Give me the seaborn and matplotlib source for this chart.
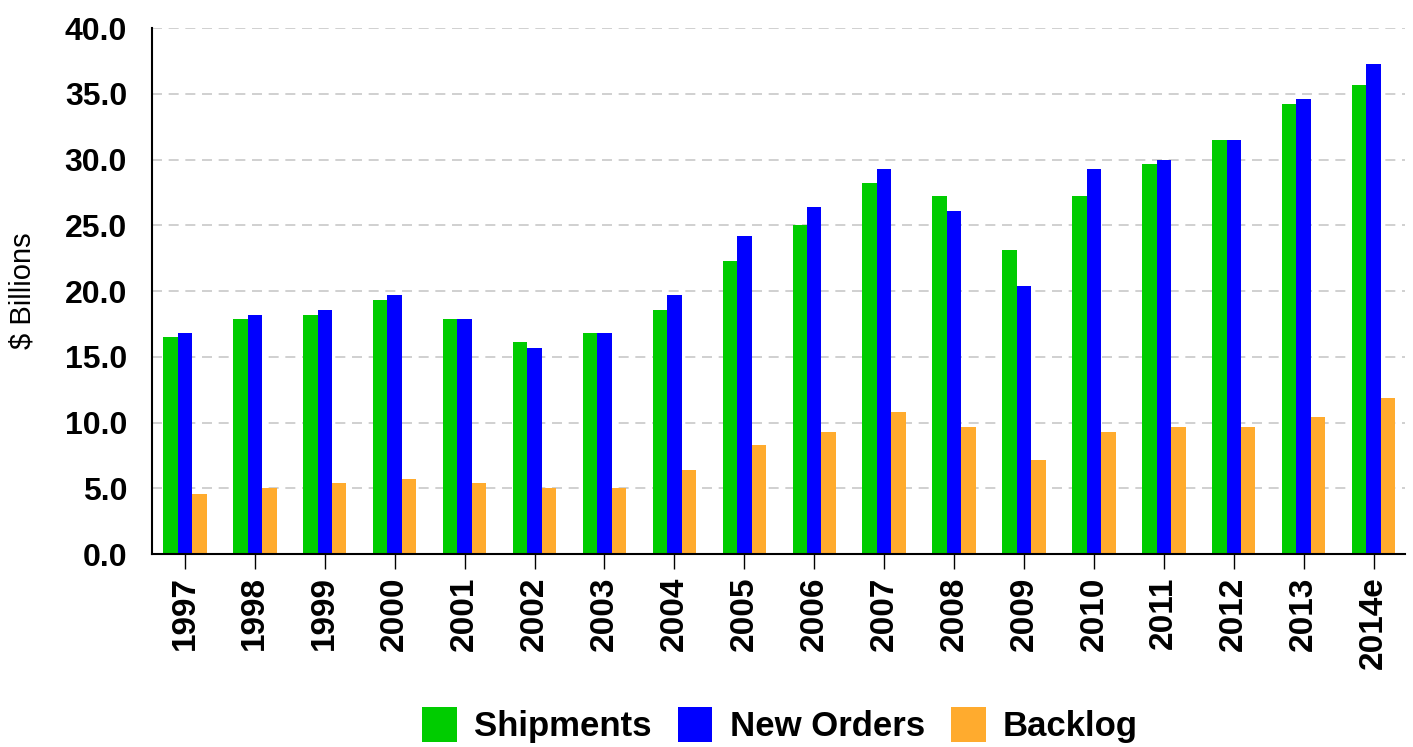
import pandas as pd
import matplotlib
matplotlib.use("Agg")
import matplotlib.pyplot as plt
import seaborn as sns
from matplotlib.ticker import FormatStrFormatter, MultipleLocator

years = ["1997", "1998", "1999", "2000", "2001", "2002", "2003", "2004", "2005",
         "2006", "2007", "2008", "2009", "2010", "2011", "2012", "2013", "2014e"]
shipments = [16.5, 17.9, 18.2, 19.3, 17.9, 16.1, 16.8, 18.6, 22.3,
             25.0, 28.2, 27.2, 23.1, 27.2, 29.7, 31.5, 34.2, 35.7]
new_orders = [16.8, 18.2, 18.6, 19.7, 17.9, 15.7, 16.8, 19.7, 24.2,
              26.4, 29.3, 26.1, 20.4, 29.3, 30.0, 31.5, 34.6, 37.3]
backlog = [4.6, 5.0, 5.4, 5.7, 5.4, 5.0, 5.0, 6.4, 8.3,
           9.3, 10.8, 9.7, 7.2, 9.3, 9.7, 9.7, 10.4, 11.9]
series = ["Shipments", "New Orders", "Backlog"]
colors = ["#00CC00", "#0000FF", "#FFAB2E"]

df = pd.DataFrame({
    "year": years * 3,
    "series": [series[0]] * len(years) + [series[1]] * len(years) + [series[2]] * len(years),
    "value": shipments + new_orders + backlog,
})

sns.set_style("white")
plt.rcParams["font.family"] = ["Liberation Sans", "DejaVu Sans"]
plt.rcParams["text.color"] = "black"
plt.rcParams["xtick.color"] = "black"
plt.rcParams["ytick.color"] = "black"
plt.rcParams["axes.labelcolor"] = "black"

fig = plt.figure(figsize=(14.13, 7.47), dpi=100)
ax = fig.add_axes([0.1076, 0.258, 0.8868, 0.7045])

sns.barplot(data=df, x="year", y="value", hue="series", order=years,
            hue_order=series, palette=colors, width=0.62, saturation=1,
            linewidth=0, ax=ax, legend=True)

ax.set_xlim(-0.47, 17.45)
ax.set_ylim(0, 40)
ax.yaxis.set_major_locator(MultipleLocator(5))
ax.yaxis.set_major_formatter(FormatStrFormatter("%.1f"))
ax.set_axisbelow(True)
ax.grid(axis="y", color="#C8C8C8", linestyle=(0, (6, 4)), linewidth=1.2)
ax.grid(axis="x", visible=False)

for s in ["top", "right"]:
    ax.spines[s].set_visible(False)
for s in ["left", "bottom"]:
    ax.spines[s].set_color("black")
    ax.spines[s].set_linewidth(1.5)

ax.tick_params(axis="x", length=11, width=1, color="black", pad=5,
               labelsize=24, rotation=90, bottom=True)
ax.tick_params(axis="y", length=0, pad=18, labelsize=23)
for lab in ax.get_xticklabels() + ax.get_yticklabels():
    lab.set_fontweight("bold")

ax.set_xlabel("")
ax.set_ylabel("$ Billions", fontsize=21)
ax.yaxis.set_label_coords(-0.092, 0.5)

handles, labels = ax.get_legend_handles_labels()
ax.legend(handles, labels, loc="center", bbox_to_anchor=(0.552, 0.029),
          bbox_transform=fig.transFigure, ncol=3, frameon=False,
          prop={"weight": "bold", "size": 25}, handlelength=1.0,
          handleheight=1.15, handletextpad=0.5, columnspacing=0.75)

fig.savefig("out.png", dpi=100)
